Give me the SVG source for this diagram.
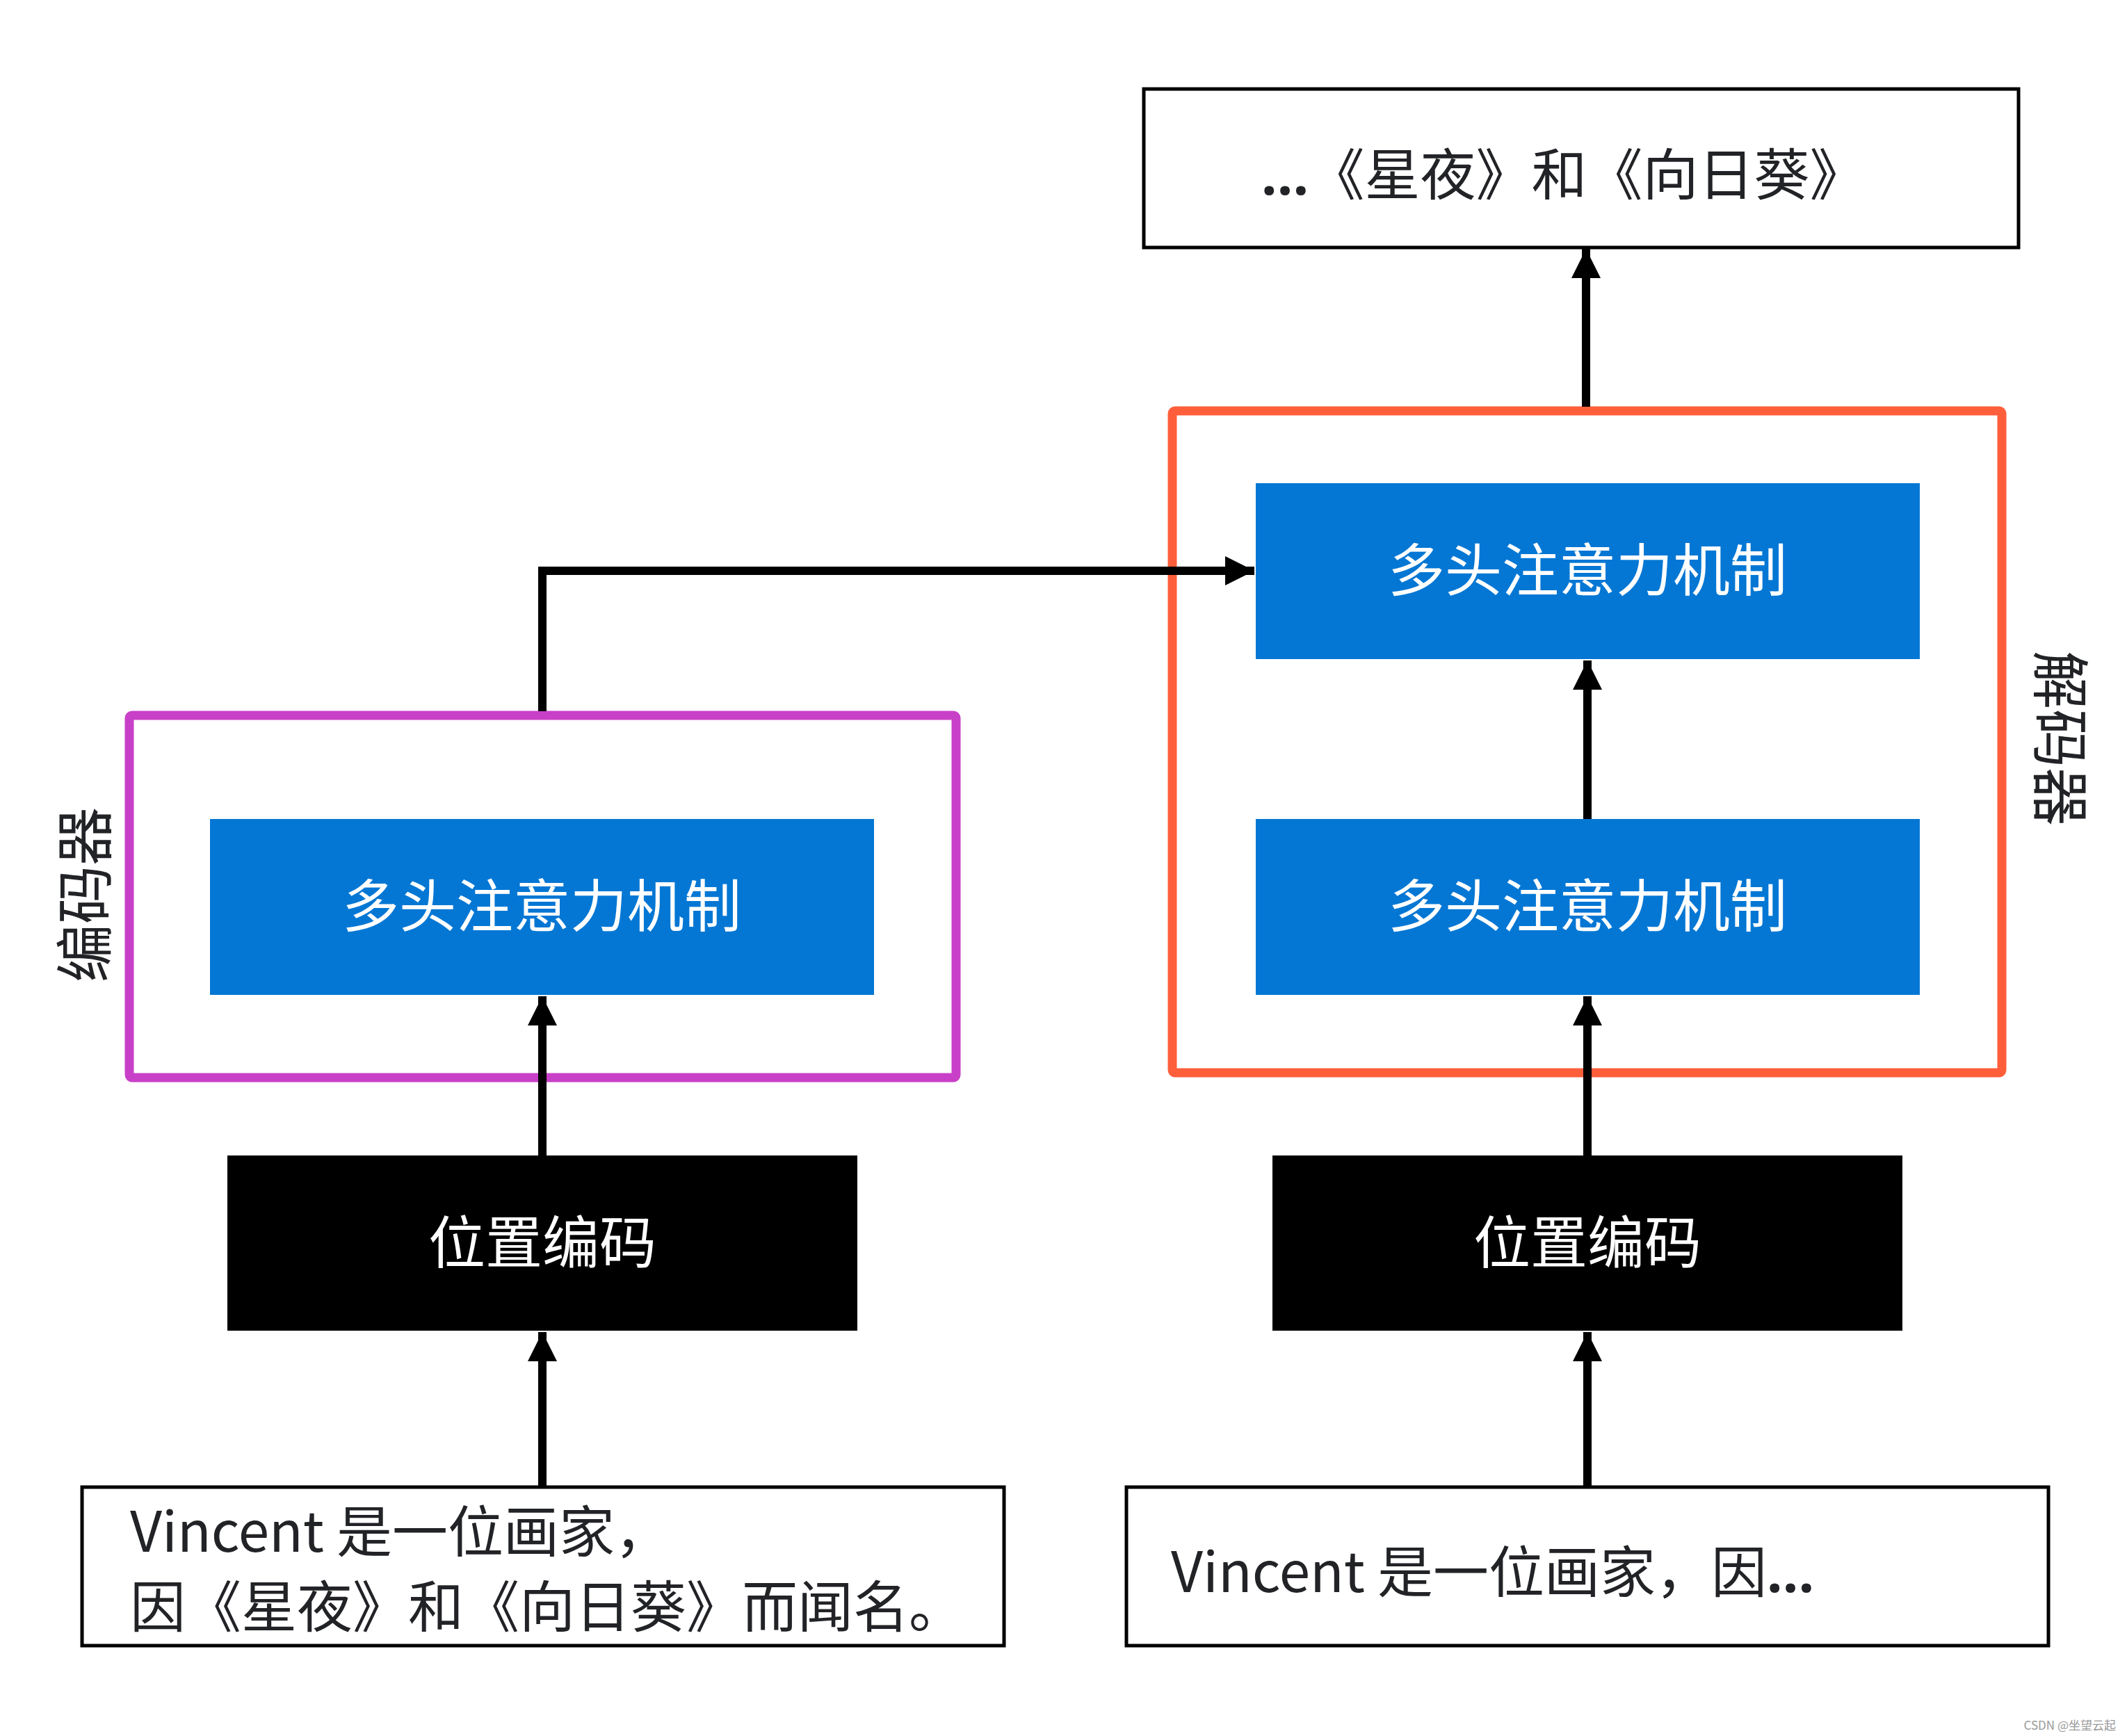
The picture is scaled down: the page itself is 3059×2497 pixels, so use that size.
<svg xmlns="http://www.w3.org/2000/svg" width="3059" height="2497" viewBox="0 0 3059 2497">
<defs>
<marker id="ah" viewBox="0 0 10 10" refX="10" refY="5" markerWidth="44" markerHeight="42" markerUnits="userSpaceOnUse" orient="auto">
<path d="M0,0 L10,5 L0,10 Z" fill="#000"/>
</marker>
<style>
.t{font-family:"Noto Sans CJK SC","Noto Sans",sans-serif;}
.e{font-family:"Noto Sans","Liberation Sans",sans-serif;}
.dark{fill:#222326;}
.white{fill:#ffffff;}
.blue{fill:#0477d4;}
.blk{fill:#000;}
.ob{fill:#fff;stroke:#000;stroke-width:5;}
.conn{fill:none;stroke:#000;stroke-width:12;marker-end:url(#ah);}
</style>
</defs>
<rect x="0" y="0" width="3059" height="2497" fill="#fff"/>

<g id="encoder-frame">
<rect x="186" y="1029" width="1189" height="521" rx="4" fill="none" stroke="#c840c8" stroke-width="13"/>
<text class="t dark" font-size="84" text-anchor="middle" dominant-baseline="central" transform="translate(116,1287) rotate(-90)">编码器</text>
</g>

<g id="decoder-frame">
<rect x="1686" y="591" width="1193" height="952" rx="4" fill="none" stroke="#ff5e3b" stroke-width="13"/>
<text class="t dark" font-size="84" text-anchor="middle" dominant-baseline="central" transform="translate(2968,1062) rotate(90)">解码器</text>
</g>

<g id="output">
<rect class="ob" x="1645" y="128" width="1258" height="228"/>
<text class="t dark" font-size="80" x="1814" y="280"><tspan class="e" font-weight="bold">…</tspan>《星夜》和《向日葵》</text>
</g>

<g id="dec-attn-top">
<rect class="blue" x="1806" y="695" width="955" height="253"/>
<text class="t white" font-size="82" x="2283" y="850" text-anchor="middle">多头注意力机制</text>
</g>

<g id="dec-attn-bottom">
<rect class="blue" x="1806" y="1178" width="955" height="253"/>
<text class="t white" font-size="82" x="2283" y="1333" text-anchor="middle">多头注意力机制</text>
</g>

<g id="enc-attn">
<rect class="blue" x="302" y="1178" width="955" height="253"/>
<text class="t white" font-size="82" x="779" y="1333" text-anchor="middle">多头注意力机制</text>
</g>

<g id="enc-pos">
<rect class="blk" x="327" y="1662" width="906" height="252"/>
<text class="t white" font-size="82" x="780" y="1817" text-anchor="middle">位置编码</text>
</g>

<g id="dec-pos">
<rect class="blk" x="1830" y="1662" width="906" height="252"/>
<text class="t white" font-size="82" x="2283" y="1817" text-anchor="middle">位置编码</text>
</g>

<g id="enc-input">
<rect class="ob" x="118" y="2139" width="1326" height="228"/>
<text class="t dark" font-size="80" x="187" y="2232">Vincent 是一位画家，</text>
<text class="t dark" font-size="80" x="187" y="2340">因《星夜》和《向日葵》而闻名。</text>
</g>

<g id="dec-input">
<rect class="ob" x="1620" y="2139" width="1326" height="228"/>
<text class="t dark" font-size="80" x="1684" y="2290">Vincent 是一位画家，因<tspan class="e" font-weight="bold">…</tspan></text>
</g>

<g id="connectors">
<line class="conn" x1="780" y1="2137" x2="780" y2="1916"/>
<line class="conn" x1="780" y1="1662" x2="780" y2="1433"/>
<polyline class="conn" points="780,1023 780,821 1804,821"/>
<line class="conn" x1="2283" y1="2137" x2="2283" y2="1916"/>
<line class="conn" x1="2283" y1="1662" x2="2283" y2="1433"/>
<line class="conn" x1="2283" y1="1178" x2="2283" y2="950"/>
<line class="conn" x1="2281" y1="585" x2="2281" y2="358"/>
</g>

<text class="t" font-size="17" fill="#999" x="3043" y="2488" text-anchor="end">CSDN @坐望云起</text>
</svg>
